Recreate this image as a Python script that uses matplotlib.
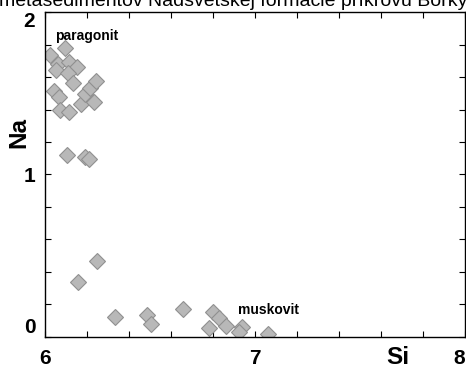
import matplotlib.pyplot as plt
from matplotlib.ticker import MultipleLocator

# Si - Na hodnoty (paragonit a muskovit)
si = [6.024, 6.095, 6.063, 6.052, 6.114, 6.152, 6.108, 6.132, 6.043, 6.068,
      6.071, 6.114, 6.170, 6.233, 6.190, 6.214, 6.243, 6.106, 6.190, 6.211,
      6.159, 6.246, 6.332, 6.487, 6.506, 6.659, 6.800, 6.827, 6.782, 6.860,
      6.937, 6.923, 7.060]
na = [1.737, 1.777, 1.679, 1.644, 1.694, 1.665, 1.628, 1.562, 1.517, 1.476,
      1.398, 1.387, 1.433, 1.449, 1.496, 1.531, 1.576, 1.120, 1.110, 1.094,
      0.339, 0.469, 0.123, 0.134, 0.081, 0.171, 0.154, 0.115, 0.052, 0.067,
      0.060, 0.031, 0.018]
x_ticks = [6, 7, 8]
y_ticks = [0, 1, 2]

plt.rcParams['font.family'] = ['Liberation Sans', 'DejaVu Sans']

fig = plt.figure(figsize=(4.66, 3.67), dpi=100)
ax = fig.add_axes([0.0966, 0.0826, 0.9014, 0.8839])

ax.plot(si, na, linestyle='none', marker='D', markersize=8,
        markerfacecolor='#b8b8b8', markeredgecolor='#909090', markeredgewidth=0.8)

ax.set_xlim(6, 8)
ax.set_ylim(0, 2)
ax.set_xticks(x_ticks)
ax.set_yticks(y_ticks)
ax.xaxis.set_minor_locator(MultipleLocator(0.2))
ax.yaxis.set_minor_locator(MultipleLocator(0.2))
ax.tick_params(which='both', direction='in', top=True, right=True, width=0.8)
ax.tick_params(which='minor', length=4)
ax.tick_params(axis='x', which='major', length=4, labelsize=15, pad=9)
ax.tick_params(axis='y', which='major', length=4, labelsize=15, pad=7)
for lab in ax.get_xticklabels() + ax.get_yticklabels():
    lab.set_fontweight('bold')
ax.get_xticklabels()[-1].set_horizontalalignment('right')
ax.get_yticklabels()[-1].set_verticalalignment('top')
ax.get_yticklabels()[0].set_verticalalignment('bottom')
for sp in ax.spines.values():
    sp.set_linewidth(1.0)

ax.text(6.048, 1.855, 'paragonit', fontsize=10, fontweight='bold', va='center')
ax.text(6.92, 0.165, 'muskovit', fontsize=10, fontweight='bold', va='center')

fig.text(398 / 466, 1 - 357 / 367, 'Si', fontsize=17.5, fontweight='bold',
         ha='center', va='center')
fig.text(18.5 / 466, 1 - 132 / 367, 'Na', fontsize=17.5, fontweight='bold',
         ha='center', va='center', rotation=90)

fig.text(0.5, 1 - 6 / 367, 'metasedimentov Nadsvetskej formácie príkrovu Bôrky',
         fontsize=14, ha='center', va='baseline')

fig.savefig('out.png', dpi=100)
